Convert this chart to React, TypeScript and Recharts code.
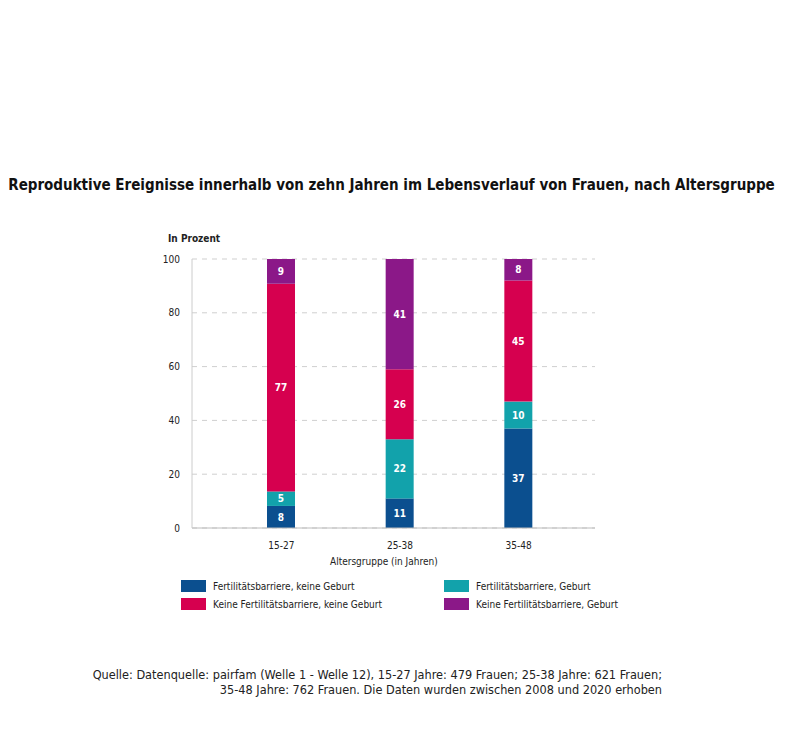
import React from 'react';
import { BarChart, Bar, XAxis, YAxis, CartesianGrid, LabelList } from 'recharts';

const categories = ['15-27', '25-38', '35-48'];
const fertBarrierNoBirth = [8.2, 11, 37];
const fertBarrierBirth = [5.4, 22, 10];
const noBarrierNoBirth = [77.2, 26, 45];
const noBarrierBirth = [9.2, 41, 8];
const yTicks = [0, 20, 40, 60, 80, 100];

const series = [
  { key: 'fbnb', name: 'Fertilitätsbarriere, keine Geburt', color: '#0b4f8f', values: fertBarrierNoBirth },
  { key: 'fbb', name: 'Fertilitätsbarriere, Geburt', color: '#12a2ab', values: fertBarrierBirth },
  { key: 'nbnb', name: 'Keine Fertilitätsbarriere, keine Geburt', color: '#d6004f', values: noBarrierNoBirth },
  { key: 'nbb', name: 'Keine Fertilitätsbarriere, Geburt', color: '#8b1888', values: noBarrierBirth },
];

const data = categories.map((c, i) => {
  const row: any = { cat: c };
  series.forEach((s) => (row[s.key] = s.values[i]));
  return row;
});

const FONT = "'DejaVu Sans Condensed', 'Roboto', sans-serif";

const legendOrder = [
  { s: series[0], x: 181, y: 580 },
  { s: series[1], x: 444, y: 580 },
  { s: series[2], x: 181, y: 598 },
  { s: series[3], x: 444, y: 598 },
];

export default function App() {
  return (
    <div style={{ position: 'absolute', left: 0, top: 0, width: 800, height: 741, background: '#fff', fontFamily: FONT }}>
      <div style={{ position: 'absolute', left: 8, width: 767, top: 176, textAlign: 'center', fontWeight: 'bold', fontSize: 15, color: '#111', whiteSpace: 'nowrap' }}>
        Reproduktive Ereignisse innerhalb von zehn Jahren im Lebensverlauf von Frauen, nach Altersgruppe
      </div>
      <div style={{ position: 'absolute', left: 168, top: 233, fontSize: 10, fontWeight: 'bold', color: '#222' }}>In Prozent</div>
      <div style={{ position: 'absolute', left: 0, top: 0 }}>
        <BarChart width={800} height={741} data={data} margin={{ top: 259, right: 205, bottom: 183, left: 162 }}>
          <CartesianGrid vertical={false} stroke="#cfcfcf" strokeDasharray="5 5" />
          <XAxis
            dataKey="cat"
            height={30}
            padding={{ left: 30, right: 17 }}
            tickLine={false}
            axisLine={{ stroke: '#bbbbbb' }}
            tick={{ fontSize: 10, fill: '#222', fontFamily: FONT }}
            tickMargin={8}
          />
          <YAxis
            width={30}
            domain={[0, 100]}
            ticks={yTicks}
            tickLine={false}
            axisLine={{ stroke: '#cccccc' }}
            tick={{ fontSize: 10, fill: '#222', fontFamily: FONT }}
            tickMargin={6}
          />
          {series.map((s) => (
            <Bar key={s.key} dataKey={s.key} stackId="a" fill={s.color} barSize={28} isAnimationActive={false}>
              <LabelList
                dataKey={s.key}
                position="center"
                formatter={(v: any) => Math.round(Number(v))}
                style={{ fill: '#fff', fontSize: 10, fontWeight: 'bold', fontFamily: FONT }}
              />
            </Bar>
          ))}
        </BarChart>
      </div>
      <div style={{ position: 'absolute', left: 330, top: 556, fontSize: 10, color: '#222' }}>Altersgruppe (in Jahren)</div>
      {legendOrder.map(({ s, x, y }) => (
        <div key={s.key} style={{ position: 'absolute', left: x, top: y, display: 'flex', alignItems: 'center' }}>
          <div style={{ width: 25, height: 12, background: s.color }} />
          <div style={{ marginLeft: 7, fontSize: 10, color: '#222', whiteSpace: 'nowrap' }}>{s.name}</div>
        </div>
      ))}
      <div style={{ position: 'absolute', right: 138, top: 667, fontSize: 12.6, color: '#222', textAlign: 'right', lineHeight: '15px', whiteSpace: 'nowrap' }}>
        Quelle: Datenquelle: pairfam (Welle 1 - Welle 12), 15-27 Jahre: 479 Frauen; 25-38 Jahre: 621 Frauen;
        <br />
        35-48 Jahre: 762 Frauen. Die Daten  wurden zwischen 2008 und 2020 erhoben
      </div>
    </div>
  );
}
